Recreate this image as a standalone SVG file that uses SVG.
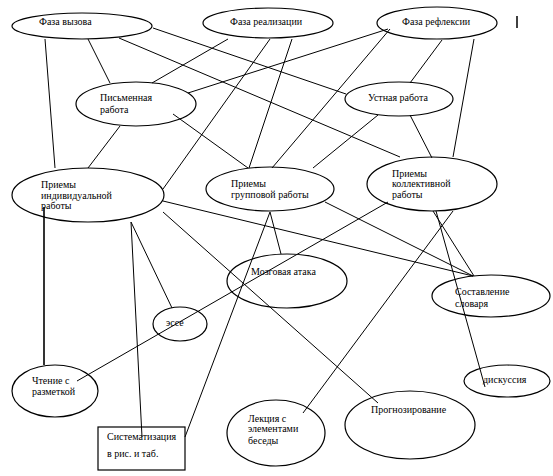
<svg xmlns="http://www.w3.org/2000/svg" width="553" height="476" viewBox="0 0 553 476">
<style>
.n{fill:#fff;stroke:#000;stroke-width:1.2}
.t{font-family:"Liberation Serif","Times New Roman",serif;font-size:10px;fill:#000}
#connectors line{stroke:#000;stroke-width:1}
</style>
<rect width="553" height="476" fill="#fff"/>
<g id="connectors">
<line x1="45" y1="39" x2="55" y2="168"/>
<line x1="88" y1="39" x2="110" y2="83"/>
<line x1="119" y1="38" x2="400" y2="157"/>
<line x1="153" y1="28" x2="346" y2="94"/>
<line x1="228" y1="39" x2="152" y2="83"/>
<line x1="270" y1="39" x2="163" y2="189"/>
<line x1="292" y1="39" x2="249" y2="168"/>
<line x1="188" y1="93" x2="388" y2="29"/>
<line x1="390" y1="29" x2="272" y2="168"/>
<line x1="442" y1="40" x2="410" y2="83"/>
<line x1="474" y1="39" x2="453" y2="157"/>
<line x1="378" y1="115" x2="313" y2="168"/>
<line x1="410" y1="115" x2="432" y2="158"/>
<line x1="120" y1="126" x2="88" y2="168"/>
<line x1="173" y1="114" x2="248" y2="168"/>
<line x1="163" y1="201" x2="473" y2="276"/>
<line x1="163" y1="212" x2="378" y2="403"/>
<line x1="131" y1="222" x2="172" y2="308"/>
<line x1="131" y1="222" x2="142" y2="437"/>
<line x1="44" y1="207" x2="44" y2="365" style="stroke-width:1.6"/>
<line x1="270" y1="212" x2="281" y2="254"/>
<line x1="270" y1="212" x2="185" y2="437"/>
<line x1="325" y1="202" x2="473" y2="276"/>
<line x1="388" y1="202" x2="77" y2="381"/>
<line x1="453" y1="211" x2="303" y2="413"/>
<line x1="433" y1="211" x2="474" y2="276"/>
<line x1="436" y1="211" x2="485" y2="387"/>
<line x1="517" y1="16" x2="517" y2="28" style="stroke-width:1.5"/>
</g>
<g id="n-vyzov"><ellipse class="n" cx="82" cy="26" rx="70" ry="13" style="fill:none"/><text class="t" x="39" y="25">Фаза вызова</text></g>
<g id="n-realiz"><ellipse class="n" cx="268" cy="23" rx="65" ry="15" style="fill:none"/><text class="t" x="230" y="25">Фаза реализации</text></g>
<g id="n-reflex"><ellipse class="n" cx="437" cy="23" rx="60" ry="16" style="fill:none"/><text class="t" x="402" y="25">Фаза рефлексии</text></g>
<g id="n-pismen"><ellipse class="n" cx="136" cy="104" rx="60" ry="22" style="fill:none"/><text class="t" x="100" y="101">Письменная</text><text class="t" x="100" y="113">работа</text></g>
<g id="n-ustn"><ellipse class="n" cx="399" cy="99" rx="54" ry="17" style="fill:none"/><text class="t" x="368" y="101">Устная работа</text></g>
<g id="n-indiv"><ellipse class="n" cx="88" cy="195" rx="76" ry="27" style="fill:none"/><text class="t" x="41" y="188">Приемы</text><text class="t" x="41" y="199">индивидуальной</text><text class="t" x="41" y="209">работы</text></g>
<g id="n-grupp"><ellipse class="n" cx="270" cy="189" rx="64" ry="22" style="fill:none"/><text class="t" x="231" y="187">Приемы</text><text class="t" x="231" y="198">групповой работы</text></g>
<g id="n-kollekt"><ellipse class="n" cx="432" cy="184" rx="65" ry="27" style="fill:none"/><text class="t" x="392" y="177">Приемы</text><text class="t" x="392" y="187">коллективной</text><text class="t" x="392" y="198">работы</text></g>
<g id="n-mozg"><ellipse class="n" cx="287" cy="281" rx="60" ry="27" style="fill:none"/><text class="t" x="251" y="275">Мозговая атака</text></g>
<g id="n-slovar"><ellipse class="n" cx="491" cy="296" rx="59" ry="21" style="fill:none"/><text class="t" x="455" y="295">Составление</text><text class="t" x="455" y="307">словаря</text></g>
<g id="n-esse"><ellipse class="n" cx="180" cy="324" rx="27" ry="17" style="fill:none"/><text class="t" x="166" y="326">эссе</text></g>
<g id="n-chtenie"><ellipse class="n" cx="55" cy="391" rx="43" ry="26" style="fill:none"/><text class="t" x="32" y="384">Чтение с</text><text class="t" x="32" y="395">разметкой</text></g>
<g id="n-sistem"><rect class="n" x="98" y="427" width="87" height="43" style="fill:none"/><text class="t" x="107" y="440">Систематизация</text><text class="t" x="107" y="457">в рис. и таб.</text></g>
<g id="n-lekcia"><ellipse class="n" cx="276" cy="433" rx="49" ry="33" style="fill:none"/><text class="t" x="248" y="422">Лекция с</text><text class="t" x="248" y="432">элементами</text><text class="t" x="248" y="444">беседы</text></g>
<g id="n-prognoz"><ellipse class="n" cx="410" cy="425" rx="65" ry="34" style="fill:none"/><text class="t" x="371" y="413">Прогнозирование</text></g>
<g id="n-diskus"><ellipse class="n" cx="507" cy="381" rx="43" ry="16" style="fill:none"/><text class="t" x="483" y="383">дискуссия</text></g>
</svg>
